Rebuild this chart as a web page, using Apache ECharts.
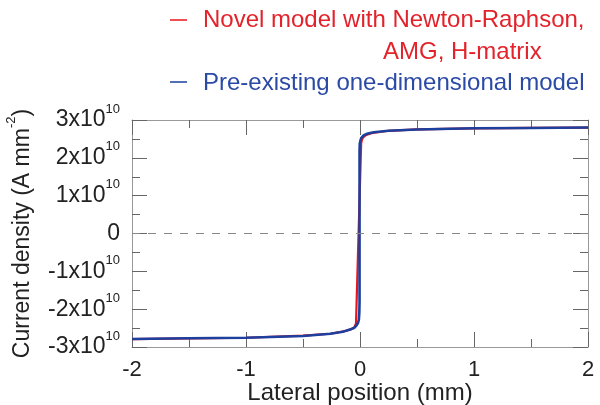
<!DOCTYPE html>
<html>
<head>
<meta charset="utf-8">
<script src="https://cdn.jsdelivr.net/npm/echarts@6/dist/echarts.min.js"></script>
<style>
  html, body { margin: 0; padding: 0; background: #fff; }
  #chart { width: 600px; height: 405px; }
</style>
</head>
<body>
<div id="chart"></div>
<script>
// Lateral position (mm) and current density (A mm^-2) for each model
const novelX = [-2, -1.5, -1, -0.5, -0.26, -0.12, -0.07, -0.05, -0.04, -0.035, 0.01, 0.015, 0.025, 0.05, 0.1,
                0.25, 0.5, 1, 1.5, 2];
const novelY = [-2.79e10, -2.77e10, -2.755e10, -2.70e10, -2.65e10, -2.57e10, -2.52e10, -2.48e10, -2.44e10, -2.38e10,
                2.38e10, 2.46e10, 2.53e10, 2.60e10, 2.65e10, 2.715e10, 2.75e10, 2.78e10, 2.79e10, 2.80e10];

const pre1dX = [-2, -1.5, -1, -0.5, -0.26, -0.15, -0.088, -0.05, -0.03, -0.018, -0.01, -0.006, -0.004, -0.004,
                -0.002, 0.004, 0.012, 0.03, 0.06, 0.12, 0.25, 0.5, 1, 1.5, 2];
const pre1dY = [-2.79e10, -2.77e10, -2.755e10, -2.71e10, -2.65e10, -2.595e10, -2.54e10, -2.49e10, -2.43e10, -2.37e10,
                -2.28e10, -2.10e10, -1.80e10, 2.20e10, 2.38e10, 2.46e10, 2.53e10, 2.59e10, 2.635e10, 2.675e10,
                2.715e10, 2.75e10, 2.78e10, 2.79e10, 2.80e10];

const seriesNames = ['Novel model with Newton-Raphson,', 'AMG, H-matrix', 'Pre-existing one-dimensional model'];
const xTicks = { min: -2, max: 2, step: 1 };
const yTicks = { min: -3e10, max: 3e10, step: 1e10 };

const FONT = '"Liberation Sans", Arial, sans-serif';
const RED = '#e8141c';
const BLUE = '#1d3f9e';
const TICK = '#666';
const FRAME = '#999';
const INK = '#222';

const zip = (xs, ys) => xs.map((x, i) => [x, ys[i]]);

function yLabel(v) {
  if (Math.abs(v) < 1) return '{b|0}';
  const m = Math.round(v / 1e10);
  return '{b|' + (m < 0 ? '-' : '') + Math.abs(m) + 'x10}{s|10}';
}

const baseAxis = {
  type: 'value',
  axisLine: { show: true, onZero: false, lineStyle: { color: FRAME, width: 1 } },
  axisTick: { show: true, inside: true, length: 15, lineStyle: { color: TICK, width: 1 } },
  minorTick: { show: true, splitNumber: 2, length: 8, lineStyle: { color: TICK, width: 1 } },
  splitLine: { show: false },
  minorSplitLine: { show: false }
};

const chart = echarts.init(document.getElementById('chart'), null, { renderer: 'canvas' });

chart.setOption({
  animation: false,
  backgroundColor: '#fff',
  grid: { left: 132, right: 12, top: 120, bottom: 58, containLabel: false, outerBoundsMode: 'none' },
  xAxis: [
    Object.assign({}, baseAxis, {
      min: xTicks.min, max: xTicks.max, interval: xTicks.step,
      position: 'bottom',
      axisLabel: { margin: 12, fontFamily: FONT, fontSize: 22, color: INK },
      name: 'Lateral position (mm)',
      nameLocation: 'middle',
      nameGap: 34,
      nameMoveOverlap: false,
      nameTextStyle: { fontFamily: FONT, fontSize: 24, color: INK }
    }),
    Object.assign({}, baseAxis, {
      min: xTicks.min, max: xTicks.max, interval: xTicks.step,
      position: 'top',
      axisLabel: { show: false }
    })
  ],
  yAxis: [
    Object.assign({}, baseAxis, {
      min: yTicks.min, max: yTicks.max, interval: yTicks.step,
      position: 'left',
      axisLabel: {
        margin: 12,
        formatter: yLabel,
        rich: {
          b: { fontFamily: FONT, fontSize: 23, color: INK },
          s: { fontFamily: FONT, fontSize: 13, color: INK, padding: [0, 0, 22, 0] }
        }
      },
      name: '{t|Current density (A mm}{s|-2}{t|)}',
      nameLocation: 'middle',
      nameGap: 92,
      nameRotate: 90,
      nameMoveOverlap: false,
      nameTextStyle: {
        rich: {
          t: { fontFamily: FONT, fontSize: 23, color: INK },
          s: { fontFamily: FONT, fontSize: 13, color: INK, padding: [0, 0, 22, 0] }
        }
      }
    }),
    Object.assign({}, baseAxis, {
      min: yTicks.min, max: yTicks.max, interval: yTicks.step,
      position: 'right',
      axisLabel: { show: false }
    })
  ],
  series: [
    {
      name: seriesNames[0] + ' ' + seriesNames[1],
      type: 'line',
      data: zip(novelX, novelY),
      showSymbol: false,
      lineStyle: { color: RED, width: 2.2 },
      z: 3,
      markLine: {
        silent: true,
        symbol: 'none',
        label: { show: false },
        lineStyle: { color: '#888', width: 1, type: [8, 8] },
        data: [{ yAxis: 0 }]
      }
    },
    {
      name: seriesNames[2],
      type: 'line',
      data: zip(pre1dX, pre1dY),
      showSymbol: false,
      lineStyle: { color: BLUE, width: 2.6 },
      z: 4
    }
  ],
  graphic: [
    { type: 'line', shape: { x1: 170, y1: 20, x2: 187, y2: 20 }, style: { stroke: RED, lineWidth: 1.5 } },
    { type: 'text', left: 203, top: 8,
      style: { text: seriesNames[0], fill: '#e3232b', font: '24px ' + FONT } },
    { type: 'text', left: 383, top: 40,
      style: { text: seriesNames[1], fill: '#e3232b', font: '24px ' + FONT } },
    { type: 'line', shape: { x1: 170, y1: 82, x2: 187, y2: 82 }, style: { stroke: BLUE, lineWidth: 1.5 } },
    { type: 'text', left: 203, top: 71,
      style: { text: seriesNames[2], fill: '#2b4aa6', font: '24px ' + FONT } }
  ]
});
</script>
</body>
</html>
